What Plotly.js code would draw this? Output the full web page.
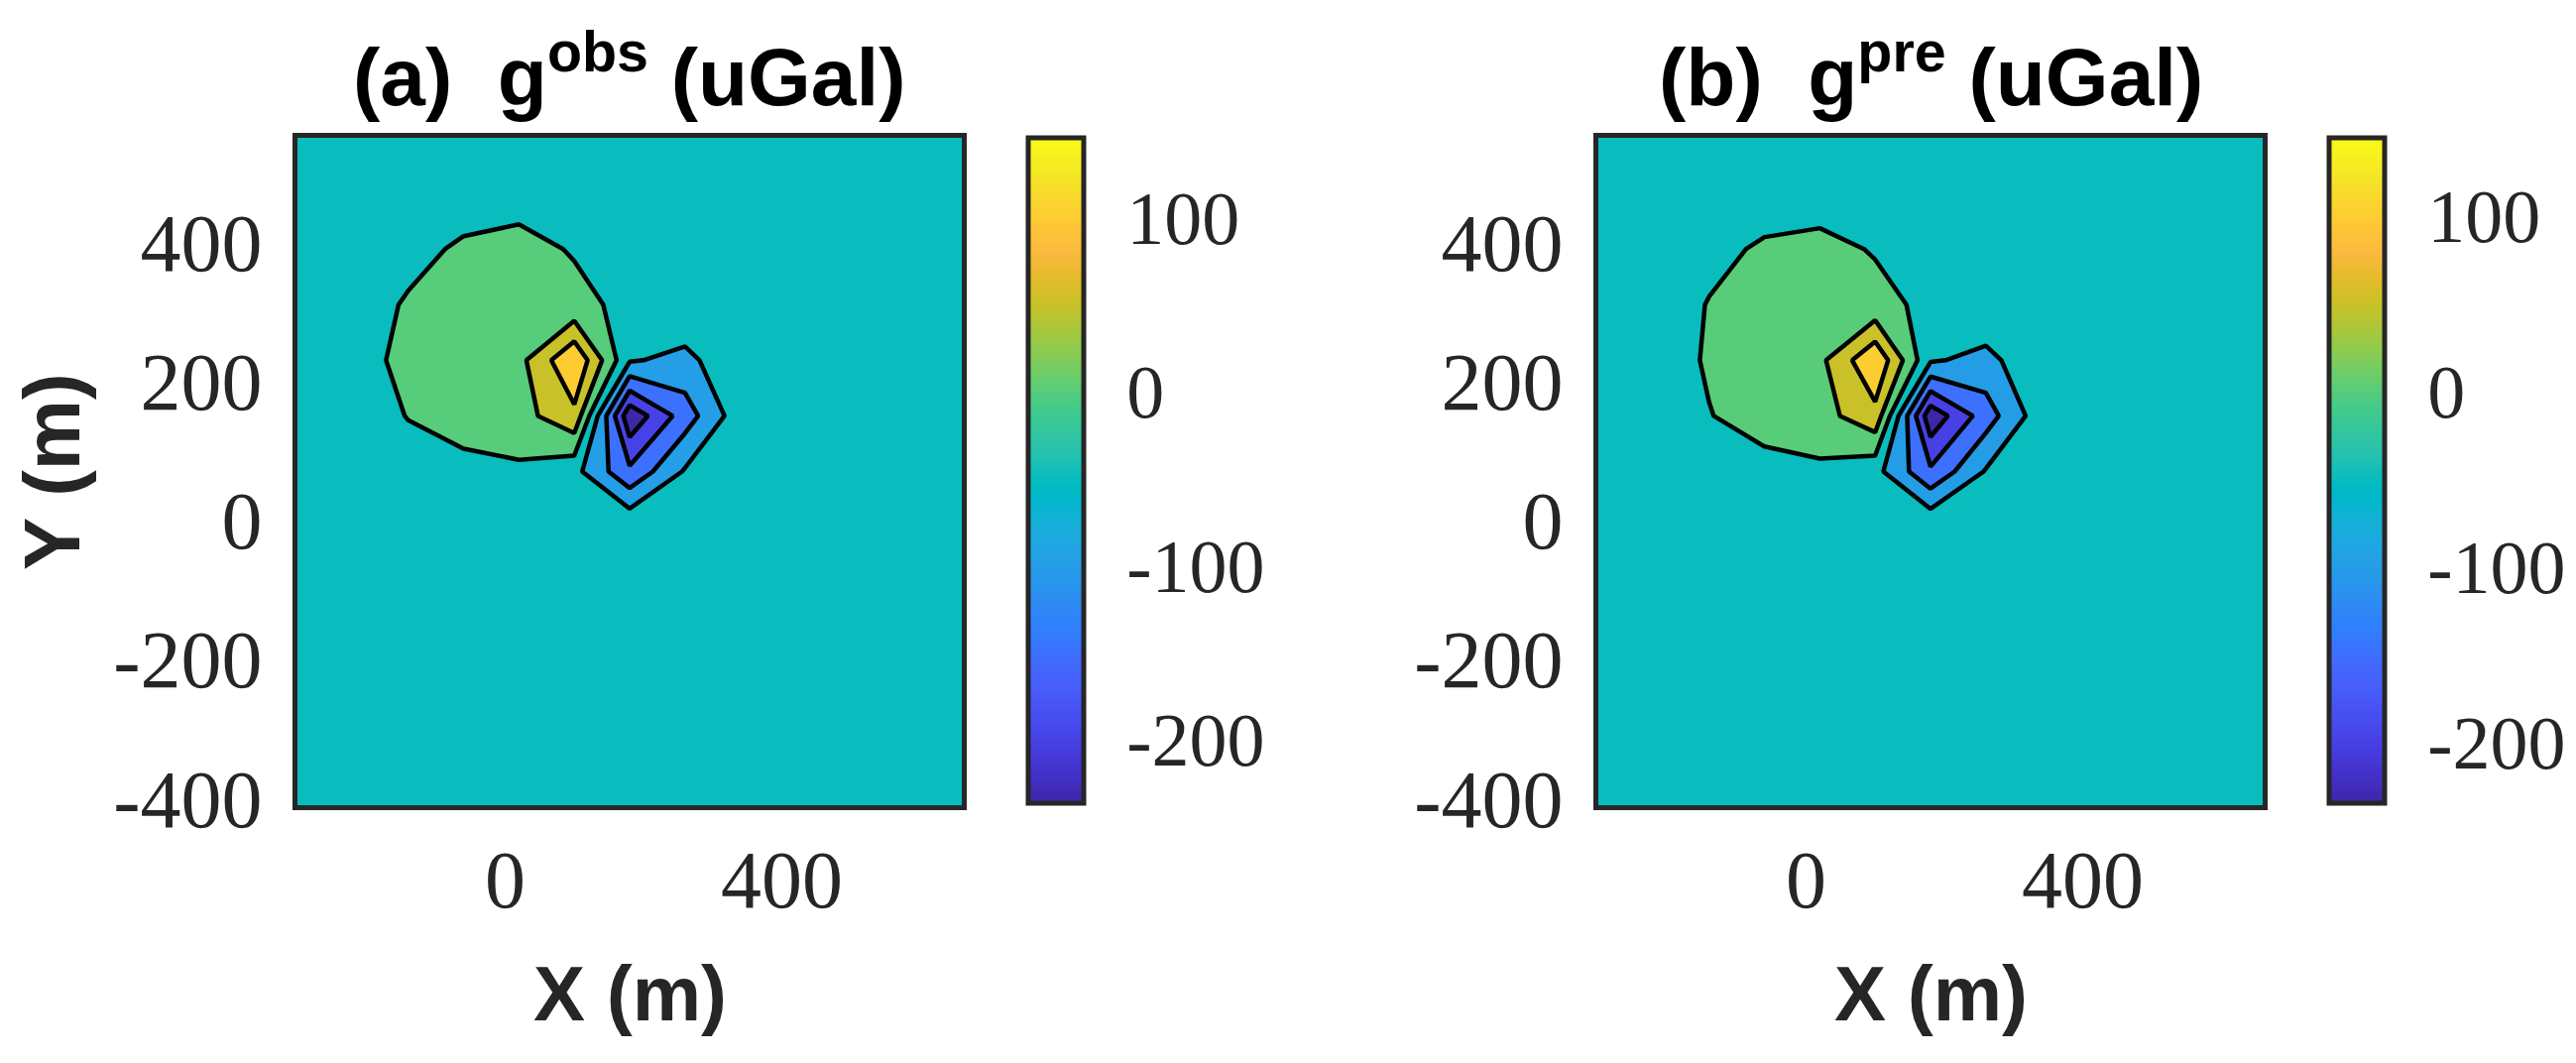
<!DOCTYPE html>
<html><head><meta charset="utf-8">
<script src="https://cdn.plot.ly/plotly-3.0.1.min.js"></script>
<style>html,body{margin:0;padding:0;background:#fff;} #chart{width:2598px;height:1072px;}</style>
</head><body><div id="chart"></div>
<script>
// ---------------- data ----------------
const xGrid = [-300,-220,-140,-60,20,100,180,260,340,420,500,580,660];
const yGrid = [-410,-330,-250,-170,-90,-10,70,150,230,310,390,470,550];

// rows follow yGrid (bottom to top), columns follow xGrid
const zObs = [
  [-1,-1,-2,-2,-2,-2,-2,-2,-1,-1,-1,-1,-1],
  [-1,-2,-2,-2,-2,-3,-3,-2,-2,-1,-1,-1,-1],
  [-2,-2,-2,-3,-3,-3,-3,-3,-2,-2,-1,-1,-1],
  [-2,-2,-3,-3,-4,-4,-4,-3,-2,-2,-1,-1,-1],
  [-2,-3,-3,-4,-4,-5,-5,-4,-3,-2,-2,-1,-1],
  [-2,-3,-4,-5,-5,-6,-5,-3,-3,-2,-1,-1,-1],
  [-3,-6,-12,-16,-8,-35,-140,-45,-8,-3,-2,-1,-1],
  [-4,-15,1,23,30,88,-237,-125,-20,-4,-2,-2,-1],
  [-5,-12,8,28,35,146,-45,-65,-8,-3,-2,-1,-1],
  [-4,-19,4,20,25,11,-10,-5,-3,-2,-2,-1,-1],
  [-3,-6,-12,6,12,-3,-8,-4,-3,-2,-1,-1,-1],
  [-2,-3,-5,-20,-15,-3,-3,-2,-2,-1,-1,-1,-1],
  [-1,-1,-2,-2,-2,-2,-2,-1,-1,-1,-1,-1,-1]
];
const zPre = [
  [-1,-1,-2,-2,-2,-2,-2,-2,-1,-1,-1,-1,-1],
  [-1,-2,-2,-2,-2,-3,-3,-2,-2,-1,-1,-1,-1],
  [-2,-2,-2,-3,-3,-3,-3,-3,-2,-2,-1,-1,-1],
  [-2,-2,-3,-3,-4,-4,-4,-3,-2,-2,-1,-1,-1],
  [-2,-3,-3,-4,-4,-5,-5,-4,-3,-2,-2,-1,-1],
  [-2,-3,-4,-5,-6,-6,-5,-3,-3,-2,-1,-1,-1],
  [-3,-6,-12,-18,-9,-34,-142,-46,-9,-3,-2,-1,-1],
  [-4,-16,-2,22,30,85,-235,-124,-21,-4,-2,-2,-1],
  [-5,-30,6,27,38,144,-44,-66,-9,-3,-2,-1,-1],
  [-4,-25,2,19,25,13,-10,-5,-3,-2,-2,-1,-1],
  [-3,-7,-12,6,12,-3,-8,-4,-3,-2,-1,-1,-1],
  [-2,-3,-6,-22,-20,-3,-3,-2,-2,-1,-1,-1,-1],
  [-1,-1,-2,-2,-2,-2,-2,-1,-1,-1,-1,-1,-1]
];

const levelStart = -200, levelEnd = 100, levelStep = 50;
const xTickVals = [0, 400];
const xTickText = ['0', '400'];
const yTickVals = [-400, -200, 0, 200, 400];
const yTickText = ['-400', '-200', '0', '200', '400'];
const cbTickVals = [-200, -100, 0, 100];
const cbTickText = ['-200', '-100', '0', '100'];
const panelTitles = ['<b>(a)\u00a0 g<sup>obs</sup> (uGal)</b>', '<b>(b)\u00a0 g<sup>pre</sup> (uGal)</b>'];
const xLabel = '<b>X (m)</b>';
const yLabel = '<b>Y (m)</b>';

// ---------------- parula colormap (style) ----------------
const PARULA = [
[0.2422,0.1504,0.6603],[0.2504,0.1650,0.7076],[0.2578,0.1818,0.7511],[0.2647,0.1978,0.7952],
[0.2706,0.2147,0.8364],[0.2751,0.2342,0.8710],[0.2783,0.2559,0.8991],[0.2803,0.2782,0.9221],
[0.2813,0.3006,0.9414],[0.2810,0.3228,0.9579],[0.2795,0.3447,0.9717],[0.2760,0.3667,0.9829],
[0.2699,0.3892,0.9906],[0.2602,0.4123,0.9952],[0.2440,0.4358,0.9988],[0.2206,0.4603,0.9973],
[0.1963,0.4847,0.9892],[0.1834,0.5074,0.9798],[0.1786,0.5289,0.9682],[0.1764,0.5499,0.9520],
[0.1687,0.5703,0.9359],[0.1540,0.5902,0.9218],[0.1460,0.6091,0.9079],[0.1380,0.6276,0.8973],
[0.1248,0.6459,0.8883],[0.1113,0.6635,0.8763],[0.0952,0.6798,0.8598],[0.0689,0.6948,0.8394],
[0.0297,0.7082,0.8163],[0.0036,0.7203,0.7917],[0.0067,0.7312,0.7660],[0.0433,0.7411,0.7394],
[0.0964,0.7500,0.7120],[0.1408,0.7584,0.6842],[0.1717,0.7670,0.6554],[0.1938,0.7758,0.6251],
[0.2161,0.7843,0.5923],[0.2470,0.7918,0.5567],[0.2906,0.7973,0.5188],[0.3406,0.8008,0.4789],
[0.3909,0.8029,0.4354],[0.4456,0.8024,0.3909],[0.5044,0.7993,0.3480],[0.5616,0.7942,0.3045],
[0.6174,0.7876,0.2612],[0.6720,0.7793,0.2227],[0.7242,0.7698,0.1910],[0.7738,0.7598,0.1646],
[0.8203,0.7498,0.1535],[0.8634,0.7406,0.1596],[0.9035,0.7330,0.1774],[0.9393,0.7288,0.2100],
[0.9728,0.7298,0.2394],[0.9956,0.7434,0.2371],[0.9970,0.7659,0.2199],[0.9952,0.7893,0.2028],
[0.9892,0.8136,0.1885],[0.9786,0.8386,0.1766],[0.9676,0.8639,0.1643],[0.9610,0.8890,0.1537],
[0.9597,0.9135,0.1423],[0.9628,0.9373,0.1265],[0.9691,0.9606,0.1064],[0.9769,0.9839,0.0805]
];
function rgb(c){return 'rgb(' + c.map(v => Math.round(v*255)).join(',') + ')';}
function parula(t){
  t = Math.max(0, Math.min(1, t));
  const p = t*(PARULA.length-1), i = Math.min(Math.floor(p), PARULA.length-2), f = p - i;
  return rgb(PARULA[i].map((v,k) => v + (PARULA[i+1][k]-v)*f));
}
const parulaScale = PARULA.map((c,i) => [i/(PARULA.length-1), rgb(c)]);

function zRange(z){ const flat = z.flat(); return [Math.min(...flat), Math.max(...flat)]; }
// MATLAB-like band colouring: each band takes the colour of its lower level
function bandScale(cmin, cmax){
  const nc = Math.round((levelEnd - levelStart)/levelStep) + 1;
  const stops = [[0, parula(0)]];
  for (let k = 0; k < nc; k++){
    const L = levelStart + k*levelStep;
    stops.push([(k+1)/nc, parula((L - cmin)/(cmax - cmin))]);
  }
  return stops;
}

// ---------------- layout geometry (pixels) ----------------
const W = 2598, H = 1072;
const panelX = [[300, 970], [1612, 2282]];
const plotTop = 139, plotBot = 812;
const cbLeft = [1037, 2349];
const serif = 'Liberation Serif, Times New Roman, serif';
const sans = 'Liberation Sans, Arial, Helvetica, sans-serif';
const axisColor = '#262626';

const traces = [], annotations = [];
const layout = {
  width: W, height: H, margin: {l:0, r:0, t:0, b:0},
  paper_bgcolor: '#fff', plot_bgcolor: '#fff', showlegend: false
};
[zObs, zPre].forEach((z, p) => {
  const ax = p === 0 ? '' : '2';
  const [cmin, cmax] = zRange(z);
  traces.push({
    type: 'contour', x: xGrid, y: yGrid, z: z,
    xaxis: 'x' + ax, yaxis: 'y' + ax,
    autocontour: false,
    contours: {start: levelStart, end: levelEnd, size: levelStep, coloring: 'fill', showlines: true},
    line: {color: '#000', width: 4.5, smoothing: 0},
    colorscale: bandScale(cmin, cmax), showscale: false, hoverinfo: 'skip'
  });
  traces.push({
    type: 'scatter', mode: 'markers', x: [xGrid[0]], y: [yGrid[0]],
    xaxis: 'x' + ax, yaxis: 'y' + ax, hoverinfo: 'skip',
    marker: {size: 1, opacity: 0, color: [cmin], cmin: cmin, cmax: cmax, colorscale: parulaScale,
      showscale: true,
      colorbar: {
        x: cbLeft[p]/W, xanchor: 'left', xpad: 0, y: 1 - 139/H, yanchor: 'top', ypad: 0,
        len: 671, lenmode: 'pixels', thickness: 56, thicknessmode: 'pixels',
        outlinewidth: 5, outlinecolor: axisColor, borderwidth: 0,
        tickvals: cbTickVals, ticktext: cbTickText, ticks: 'outside', ticklen: 26,
        tickcolor: 'rgba(0,0,0,0)',
        tickfont: {family: serif, size: 76, color: axisColor}
      }}
  });
  const common = {showgrid: false, zeroline: false, showline: true, mirror: true,
    linewidth: 5, linecolor: axisColor, tickcolor: 'rgba(0,0,0,0)',
    tickfont: {family: serif, size: 82, color: axisColor}, fixedrange: true};
  layout['xaxis' + ax] = Object.assign({}, common, {
    domain: [panelX[p][0]/W, panelX[p][1]/W], range: [xGrid[0], xGrid[xGrid.length-1]],
    anchor: 'y' + ax, tickvals: xTickVals, ticktext: xTickText, ticks: ''});
  layout['yaxis' + ax] = Object.assign({}, common, {
    domain: [1 - plotBot/H, 1 - plotTop/H], range: [yGrid[0], yGrid[yGrid.length-1]],
    anchor: 'x' + ax, tickvals: yTickVals, ticktext: yTickText, ticks: 'outside', ticklen: 14});
  const cx = (panelX[p][0] + panelX[p][1])/2/W;
  annotations.push({xref:'paper', yref:'paper', x: cx, y: 1 - 72/H, xanchor:'center', yanchor:'middle',
    showarrow:false, text: panelTitles[p], font:{family: sans, size: 82, color:'#000'}});
  annotations.push({xref:'paper', yref:'paper', x: cx, y: 1 - 1002/H, xanchor:'center', yanchor:'middle',
    showarrow:false, text: xLabel, font:{family: sans, size: 78, color: axisColor}});
});
annotations.push({xref:'paper', yref:'paper', x: 52/W, y: 1 - 476/H, xanchor:'center', yanchor:'middle',
  textangle: -90, showarrow:false, text: yLabel, font:{family: sans, size: 80, color: axisColor}});
layout.annotations = annotations;

Plotly.newPlot('chart', traces, layout, {displayModeBar: false, staticPlot: true});
</script></body></html>
